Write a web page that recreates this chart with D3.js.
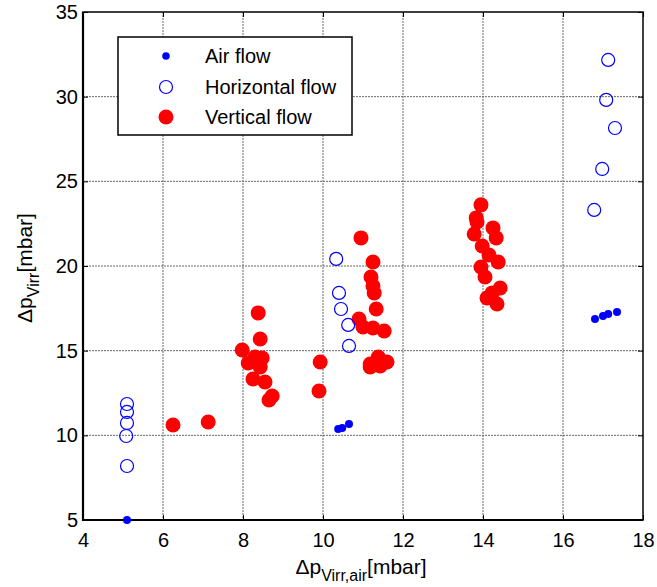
<!DOCTYPE html>
<html><head><meta charset="utf-8">
<script src="https://cdn.jsdelivr.net/npm/d3@7/dist/d3.min.js"></script>
<style>body{margin:0;background:#fff;} text{font-family:"Liberation Sans",Arial,sans-serif;}</style>
</head><body>
<script>
const xTicks = [4,6,8,10,12,14,16,18];
const yTicks = [5,10,15,20,25,30,35];
const airX = [5.1,10.38,10.48,10.65,16.8,17.0,17.13,17.35];
const airY = [5.0,10.37,10.43,10.67,16.87,17.05,17.17,17.29];
const horX = [17.13,17.08,17.3,16.98,16.78,10.33,10.4,10.45,10.63,10.65,5.1,5.1,5.1,5.08,5.1];
const horY = [32.17,29.81,28.15,25.73,23.31,20.42,18.41,17.46,16.52,15.28,11.85,11.38,10.73,9.96,8.19];
const verX = [6.25,7.13,8.38,8.43,7.98,8.48,8.3,8.13,8.43,8.25,8.55,8.65,8.73,9.93,9.9,
  10.95,11.25,11.2,11.25,11.28,11.33,10.9,11.0,11.25,11.53,11.43,11.6,11.18,11.18,11.43,11.38,
  13.95,13.83,13.85,13.78,14.25,14.33,13.98,14.15,14.38,13.95,14.05,14.43,14.23,14.1,14.35];
const verY = [10.61,10.79,17.23,15.69,15.04,14.57,14.63,14.27,14.04,13.33,13.15,12.09,12.32,14.33,12.62,
  21.66,20.24,19.35,18.82,18.41,17.46,16.87,16.4,16.34,16.16,14.45,14.33,14.21,14.04,14.1,14.63,
  23.61,22.84,22.6,21.89,22.25,21.66,21.18,20.65,20.24,19.94,19.35,18.7,18.41,18.11,17.76];
const legendLabels = ["Air flow","Horizontal flow","Vertical flow"];

const W=657,H=587;
const L=83,R=643,T=12,B=520;
const svg=d3.select("body").append("svg").attr("width",W).attr("height",H);
const x=d3.scaleLinear().domain([4,18]).range([L,R]);
const y=d3.scaleLinear().domain([5,35]).range([B,T]);

// grid
const g=svg.append("g");
g.selectAll("line.vx").data(xTicks.slice(1,-1)).join("line")
  .attr("x1",d=>x(d)).attr("x2",d=>x(d)).attr("y1",T).attr("y2",B)
  .attr("stroke","#666").attr("stroke-width",1).attr("stroke-dasharray","2,1");
g.selectAll("line.hy").data(yTicks.slice(1,-1)).join("line").attr("class","hy")
  .attr("y1",d=>y(d)).attr("y2",d=>y(d)).attr("x1",L).attr("x2",R)
  .attr("stroke","#666").attr("stroke-width",1).attr("stroke-dasharray","2,1");

// axes
const fs=20;
const xa=svg.append("g").attr("transform",`translate(0,${B})`)
  .call(d3.axisBottom(x).tickValues(xTicks).tickSize(-5).tickPadding(13));
const ya=svg.append("g").attr("transform",`translate(${L},0)`)
  .call(d3.axisLeft(y).tickValues(yTicks).tickSize(-5).tickPadding(5));
const xt=svg.append("g").attr("transform",`translate(0,${T})`)
  .call(d3.axisTop(x).tickValues(xTicks).tickSize(-5).tickFormat(""));
const yr=svg.append("g").attr("transform",`translate(${R},0)`)
  .call(d3.axisRight(y).tickValues(yTicks).tickSize(-5).tickFormat(""));
[xa,ya,xt,yr].forEach(a=>{
  a.select(".domain").remove();
  a.selectAll(".tick line").attr("stroke","#000").attr("stroke-width",1);
  a.selectAll("text").attr("font-size",fs).attr("fill","#000").attr("font-family","Liberation Sans, Arial, sans-serif");
});
svg.append("rect").attr("x",L).attr("y",T).attr("width",R-L).attr("height",B-T)
  .attr("fill","none").attr("stroke","#000").attr("stroke-width",1.5);
svg.append("path").attr("d",`M${L},${T}V${B}H${R}`).attr("fill","none").attr("stroke","#000").attr("stroke-width",2.2);

// points
svg.append("g").selectAll("circle").data(verX.map((v,i)=>[v,verY[i]])).join("circle")
  .attr("cx",d=>x(d[0])).attr("cy",d=>y(d[1])).attr("r",7.5).attr("fill","#ff0000");
svg.append("g").selectAll("circle").data(horX.map((v,i)=>[v,horY[i]])).join("circle")
  .attr("cx",d=>x(d[0])).attr("cy",d=>y(d[1])).attr("r",6.5).attr("fill","none")
  .attr("stroke","#0000ff").attr("stroke-width",1.2);
svg.append("g").selectAll("circle").data(airX.map((v,i)=>[v,airY[i]])).join("circle")
  .attr("cx",d=>x(d[0])).attr("cy",d=>y(d[1])).attr("r",4).attr("fill","#0000ff");

// legend
const lg=svg.append("g");
lg.append("rect").attr("x",118).attr("y",37).attr("width",234).attr("height",98)
  .attr("fill","#fff").attr("stroke","#000").attr("stroke-width",1.5);
const ly=[56,87,117];
lg.append("circle").attr("cx",166).attr("cy",ly[0]).attr("r",3.8).attr("fill","#0000ff");
lg.append("circle").attr("cx",166).attr("cy",ly[1]).attr("r",6.5).attr("fill","none").attr("stroke","#0000ff").attr("stroke-width",1.2);
lg.append("circle").attr("cx",166).attr("cy",ly[2]).attr("r",7.5).attr("fill","#ff0000");
lg.selectAll("text").data(legendLabels).join("text")
  .attr("x",205).attr("y",(d,i)=>ly[i]+7).attr("font-size",fs).text(d=>d);

// axis labels
const xl=svg.append("text").attr("x",361).attr("y",574).attr("text-anchor","middle").attr("font-size",21);
xl.append("tspan").text("Δp");
xl.append("tspan").attr("dy",7).attr("font-size",16).text("Virr,air");
xl.append("tspan").attr("dy",-7).text("[mbar]");
const yl=svg.append("text").attr("transform","translate(32,268) rotate(-90)").attr("text-anchor","middle").attr("font-size",21);
yl.append("tspan").text("Δp");
yl.append("tspan").attr("dy",7).attr("font-size",16).text("Virr");
yl.append("tspan").attr("dy",-7).text("[mbar]");
</script>
</body></html>
